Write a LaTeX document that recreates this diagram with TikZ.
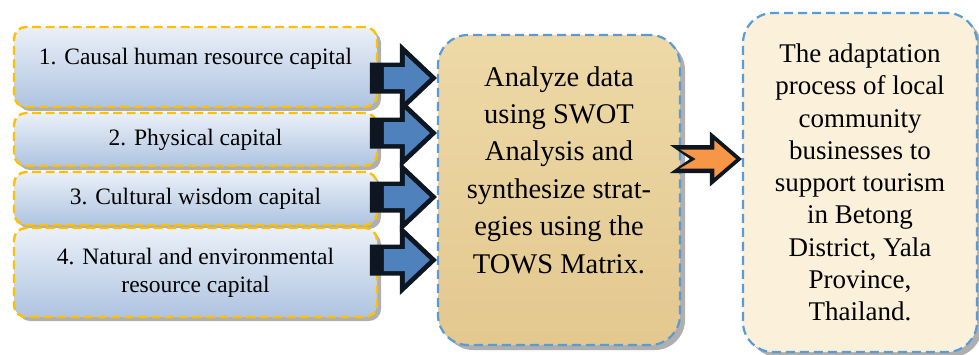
\documentclass[tikz,border=0pt]{standalone}
\usepackage{fontspec}
\setmainfont{Liberation Serif}
\usetikzlibrary{shadows}
\definecolor{capTop}{HTML}{EAF0F8}
\definecolor{capBot}{HTML}{AFC4E0}
\definecolor{capYellow}{HTML}{FFC000}
\definecolor{dashBlue}{HTML}{5B9BD5}
\definecolor{papyTop}{HTML}{EDD9A7}
\definecolor{papyBot}{HTML}{E3C88F}
\definecolor{creamFill}{HTML}{FBF0D9}
\definecolor{arrBlack}{HTML}{0D1621}
\definecolor{arrBlue}{HTML}{4F81BD}
\definecolor{arrOrange}{HTML}{F79646}
\newcommand\BlueArr[1]{%
  \begin{scope}[shift={(#1)}]
    \fill[arrBlack] (0,0) -- (-37,-35) -- (-37,-15.5) -- (-67,-15.5) -- (-67,15.5) -- (-37,15.5) -- (-37,35) -- cycle;
    \fill[arrBlue] (-7,0) -- (-32,-23.5) -- (-32,-11) -- (-53,-11) -- (-53,11) -- (-32,11) -- (-32,23.5) -- cycle;
  \end{scope}}
\newcommand\OrangeArr[1]{%
  \begin{scope}[shift={(#1)}]
    \fill[arrBlack] (0,0) -- (-32,-27.5) -- (-32,-14) -- (-72,-14) -- (-52,0) -- (-72,14) -- (-32,14) -- (-32,27.5) -- cycle;
    \fill[arrOrange] (-6,0) -- (-27.5,-18.5) -- (-27.5,-9.5) -- (-62,-9.5) -- (-46,0) -- (-62,9.5) -- (-27.5,9.5) -- (-27.5,18.5) -- cycle;
  \end{scope}}
\begin{document}
\begin{tikzpicture}[x=1pt,y=-1pt,
  capbox/.style={rounded corners=12pt, draw=capYellow, line width=2.4pt,
    dash pattern=on 9pt off 4.5pt, top color=capTop, bottom color=capBot,
    drop shadow={shadow xshift=4pt, shadow yshift=-4pt, fill=black!35, opacity=0.9},
    inner sep=0pt, minimum width=363pt, align=center,
    font=\fontsize{23.5}{28}\selectfont},
  bigbox/.style={rounded corners=30pt, draw=dashBlue, line width=2.2pt,
    dash pattern=on 9pt off 5pt, inner sep=0pt, align=center,
    drop shadow={shadow xshift=5pt, shadow yshift=-5pt, fill=black!35, opacity=0.9}},
  captext/.style={inner sep=0pt, align=center, font=\fontsize{23.5}{28}\selectfont},
  midtext/.style={inner sep=0pt, align=center, font=\fontsize{28.5}{37.4}\selectfont}
]
\useasboundingbox (0,0) rectangle (979,354);

\node[capbox, minimum height=80pt] (c1) at (195.5,67) {};
\node[captext, anchor=base] (t1) at (195.5,64) {1. Causal human resource capital};
\node[capbox, minimum height=53pt] (c2) at (195.5,139.5) {2. Physical capital};
\node[capbox, minimum height=53pt] (c3) at (195.5,198.5) {3. Cultural wisdom capital};
\node[capbox, minimum height=89pt] (c4) at (195.5,272.5) {4. Natural and environmental\\resource capital};

\node[bigbox, minimum width=242pt, minimum height=310pt, top color=papyTop, bottom color=papyBot] (mid) at (559,190) {};
\node[midtext] (midt) at (559,170) {Analyze data\\using SWOT\\Analysis and\\synthesize strat-\\egies using the\\TOWS Matrix.};

\node[bigbox, minimum width=234pt, minimum height=339pt, fill=creamFill,
  font=\fontsize{27}{32.3}\selectfont] (res) at (860,182.5)
  {The adaptation\\process of local\\community\\businesses to\\support tourism\\in Betong\\District, Yala\\Province,\\Thailand.};

\coordinate (a1) at (mid.west |- 0,78);
\coordinate (a2) at (mid.west |- 0,133);
\coordinate (a3) at (mid.west |- 0,197);
\coordinate (a4) at (mid.west |- 0,260);
\coordinate (a5) at (res.west |- 0,159);
\BlueArr{a1}
\BlueArr{a2}
\BlueArr{a3}
\BlueArr{a4}
\OrangeArr{a5}
\end{tikzpicture}
\end{document}
